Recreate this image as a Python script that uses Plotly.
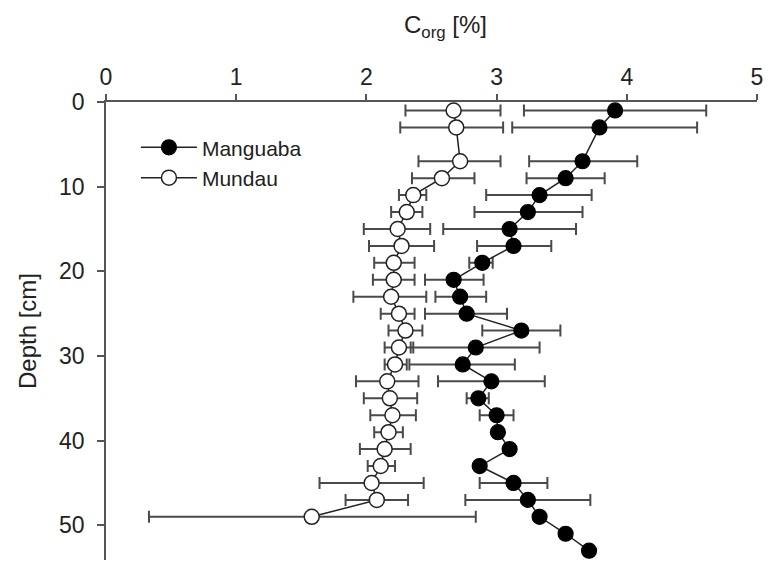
import numpy as np
import plotly.graph_objects as go

# Depths [cm]
depth_manguaba = [1, 3, 7, 9, 11, 13, 15, 17, 19, 21, 23, 25, 27, 29, 31, 33, 35, 37, 39, 41, 43, 45, 47, 49, 51, 53]
corg_manguaba = [3.91, 3.79, 3.66, 3.53, 3.33, 3.24, 3.10, 3.13, 2.89, 2.67, 2.72, 2.77, 3.19, 2.84, 2.74, 2.96,
                 2.86, 3.00, 3.01, 3.10, 2.87, 3.13, 3.24, 3.33, 3.53, 3.71]
low_manguaba = [3.21, 3.12, 3.25, 3.23, 2.92, 2.83, 2.59, 2.85, 2.79, 2.45, 2.53, 2.45, 2.89, 2.34, 2.33, 2.55,
                2.77, 2.87, 2.99, 3.08, 2.85, 2.87, 2.76, 3.33, 3.53, 3.71]
high_manguaba = [4.61, 4.54, 4.08, 3.83, 3.73, 3.66, 3.61, 3.42, 2.97, 2.90, 2.92, 3.08, 3.49, 3.33, 3.14, 3.37,
                 2.94, 3.13, 3.03, 3.12, 2.89, 3.39, 3.72, 3.33, 3.53, 3.71]

depth_mundau = [1, 3, 7, 9, 11, 13, 15, 17, 19, 21, 23, 25, 27, 29, 31, 33, 35, 37, 39, 41, 43, 45, 47, 49]
corg_mundau = [2.67, 2.69, 2.72, 2.58, 2.36, 2.31, 2.24, 2.27, 2.21, 2.21, 2.19, 2.25, 2.30, 2.25, 2.22, 2.16,
               2.18, 2.20, 2.17, 2.14, 2.11, 2.04, 2.08, 1.58]
low_mundau = [2.30, 2.26, 2.40, 2.35, 2.25, 2.19, 1.98, 2.02, 2.06, 2.05, 1.90, 2.11, 2.17, 2.14, 2.14, 1.92,
              1.98, 2.03, 2.06, 1.95, 2.01, 1.64, 1.84, 0.33]
high_mundau = [3.03, 3.05, 3.03, 2.83, 2.46, 2.43, 2.49, 2.52, 2.37, 2.37, 2.46, 2.37, 2.43, 2.36, 2.31, 2.40,
               2.39, 2.38, 2.28, 2.34, 2.22, 2.44, 2.32, 2.84]

x_ticks = [0, 1, 2, 3, 4, 5]
y_ticks = [0, 10, 20, 30, 40, 50]

FONT = "Liberation Sans, Arial, sans-serif"
AXIS_COLOR = "#555555"
ERR_COLOR = "#4a4a4a"
TEXT_COLOR = "#222222"


def err_plus(v, hi):
    return list(np.round(np.array(hi) - np.array(v), 3))


def err_minus(v, lo):
    return list(np.round(np.array(v) - np.array(lo), 3))


fig = go.Figure()

fig.add_trace(go.Scatter(
    x=corg_manguaba, y=depth_manguaba, mode="lines+markers", name="Manguaba",
    line=dict(color="#222222", width=1.5),
    marker=dict(symbol="circle", size=15, color="black", line=dict(color="black", width=1.2)),
    error_x=dict(type="data", symmetric=False,
                 array=err_plus(corg_manguaba, high_manguaba),
                 arrayminus=err_minus(corg_manguaba, low_manguaba),
                 color=ERR_COLOR, thickness=2, width=6),
))

fig.add_trace(go.Scatter(
    x=corg_mundau, y=depth_mundau, mode="lines+markers", name="Mundau",
    line=dict(color="#222222", width=1.5),
    marker=dict(symbol="circle", size=15, color="white", line=dict(color="#222222", width=1.5)),
    error_x=dict(type="data", symmetric=False,
                 array=err_plus(corg_mundau, high_mundau),
                 arrayminus=err_minus(corg_mundau, low_mundau),
                 color=ERR_COLOR, thickness=2, width=6),
))

# The page body has an 8 px default margin, so the figure is sized to fit inside it.
fig.update_layout(
    width=766, height=559,
    margin=dict(l=98, r=17, t=94, b=7),
    paper_bgcolor="white", plot_bgcolor="white",
    font=dict(family=FONT, size=23, color=TEXT_COLOR),
    showlegend=True,
    legend=dict(x=0.046, y=0.945, xanchor="left", yanchor="top",
                font=dict(family=FONT, size=21, color=TEXT_COLOR),
                bgcolor="rgba(0,0,0,0)", tracegroupgap=0, itemwidth=56),
    annotations=[dict(
        text="C<sub>org</sub> [%]", xref="paper", yref="paper",
        x=(445 - 106) / 651, y=1 + (102 - 26) / 458,
        xanchor="center", yanchor="middle", showarrow=False,
        font=dict(family=FONT, size=24, color=TEXT_COLOR),
    )],
)

fig.update_xaxes(
    side="top", range=[0, 5], tickvals=x_ticks, ticktext=[str(t) for t in x_ticks],
    showline=True, linecolor=AXIS_COLOR, linewidth=1.5,
    ticks="outside", ticklen=6, tickwidth=1.5, tickcolor=AXIS_COLOR,
    showgrid=False, zeroline=False, automargin=False,
    tickfont=dict(family=FONT, size=23, color=TEXT_COLOR),
)

fig.update_yaxes(
    range=[54.1, 0], tickvals=y_ticks, ticktext=[str(t) for t in y_ticks],
    showline=True, linecolor=AXIS_COLOR, linewidth=1.5,
    ticks="outside", ticklen=7, tickwidth=1.5, tickcolor=AXIS_COLOR,
    showgrid=False, zeroline=False, automargin=False, ticklabelstandoff=8,
    tickfont=dict(family=FONT, size=23, color=TEXT_COLOR),
    title=dict(text="Depth [cm]", font=dict(family=FONT, size=24, color=TEXT_COLOR), standoff=16),
)

fig.write_html("out.html")
